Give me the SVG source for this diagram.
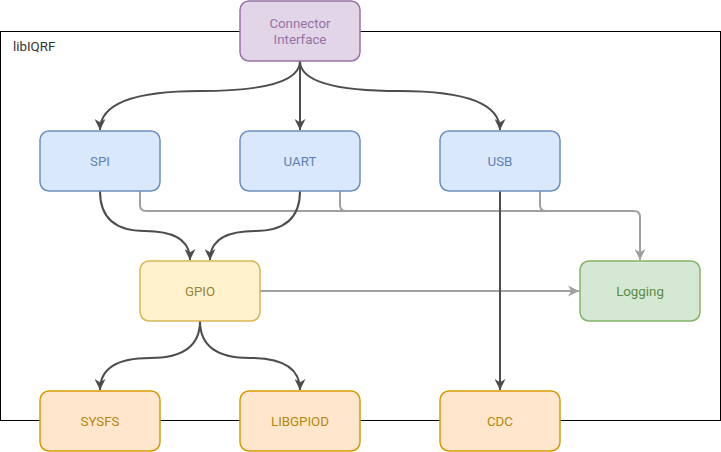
<svg xmlns="http://www.w3.org/2000/svg" width="721" height="452" viewBox="0 0 721 452">
<defs>
<style>
text{font-family:Roboto,"Liberation Sans",sans-serif;font-size:13.3px;text-anchor:middle;dominant-baseline:central}
.dark{fill:none;stroke:#4d4d4d;stroke-width:2}
.gray{fill:none;stroke:#a0a0a0;stroke-width:2}
.blue rect{fill:#dae8fc;stroke:#6c8ebf;stroke-width:1.5}
.blue text{fill:#5f80b5}
.purple rect{fill:#e1d5e7;stroke:#9673a6;stroke-width:1.5}
.purple text{fill:#9673a6}
.yellow rect{fill:#fff2cc;stroke:#d6b656;stroke-width:1.5}
.yellow text{fill:#978233}
.green rect{fill:#d5e8d4;stroke:#82b366;stroke-width:1.5}
.green text{fill:#5a8a45}
.orange rect{fill:#ffe6cc;stroke:#d79b00;stroke-width:1.5}
.orange text{fill:#b5870a}
</style>
<marker id="ad" viewBox="0 0 10 10" refX="10" refY="5" markerWidth="11" markerHeight="11" markerUnits="userSpaceOnUse" orient="auto"><path d="M0,0 L10,5 L0,10 L3,5 z" fill="#4d4d4d"/></marker>
<marker id="ag" viewBox="0 0 10 10" refX="10" refY="5" markerWidth="11" markerHeight="11" markerUnits="userSpaceOnUse" orient="auto"><path d="M0,0 L10,5 L0,10 L3,5 z" fill="#a0a0a0"/></marker>
</defs>
<rect width="721" height="452" fill="#ffffff"/>
<g id="container">
<rect x="0.5" y="31.5" width="720" height="389" fill="none" stroke="#000000" stroke-width="1"/>
<text x="13" y="46" style="text-anchor:start;fill:#333333">libIQRF</text>
</g>
<g id="connectors">
<path class="gray" d="M140,191 V205 Q140,211 146,211 H634 Q640,211 640,217 V260" marker-end="url(#ag)"/>
<path class="gray" d="M340,191 V205 Q340,211 346,211 H400"/>
<path class="gray" d="M540,191 V205 Q540,211 546,211 H600"/>
<path class="gray" d="M260,291 H579" marker-end="url(#ag)"/>
<path class="dark" d="M300,61 Q300,91 200,91 Q100,91 100,130" marker-end="url(#ad)"/>
<path class="dark" d="M300,61 V130" marker-end="url(#ad)"/>
<path class="dark" d="M300,61 Q300,91 400,91 Q500,91 500,130" marker-end="url(#ad)"/>
<path class="dark" d="M100,191 Q100,231 145,231 Q190,231 190,260" marker-end="url(#ad)"/>
<path class="dark" d="M300,191 Q300,231 255,231 Q210,231 210,260" marker-end="url(#ad)"/>
<path class="dark" d="M500,191 V390" marker-end="url(#ad)"/>
<path class="dark" d="M200,321 Q200,358 150,358 Q100,358 100,390" marker-end="url(#ad)"/>
<path class="dark" d="M200,321 Q200,358 250,358 Q300,358 300,390" marker-end="url(#ad)"/>
</g>
<g id="connector-interface" class="purple"><rect x="240" y="1" width="120" height="60" rx="9"/><text x="300" y="23">Connector</text><text x="300" y="39">Interface</text></g>
<g id="spi" class="blue"><rect x="40" y="131" width="120" height="60" rx="9"/><text x="100" y="161">SPI</text></g>
<g id="uart" class="blue"><rect x="240" y="131" width="120" height="60" rx="9"/><text x="300" y="161">UART</text></g>
<g id="usb" class="blue"><rect x="440" y="131" width="120" height="60" rx="9"/><text x="500" y="161">USB</text></g>
<g id="gpio" class="yellow"><rect x="140" y="261" width="120" height="60" rx="9"/><text x="200" y="291">GPIO</text></g>
<g id="logging" class="green"><rect x="580" y="261" width="120" height="60" rx="9"/><text x="640" y="291">Logging</text></g>
<g id="sysfs" class="orange"><rect x="40" y="391" width="120" height="60" rx="9"/><text x="100" y="421">SYSFS</text></g>
<g id="libgpiod" class="orange"><rect x="240" y="391" width="120" height="60" rx="9"/><text x="300" y="421">LIBGPIOD</text></g>
<g id="cdc" class="orange"><rect x="440" y="391" width="120" height="60" rx="9"/><text x="500" y="421">CDC</text></g>
</svg>
